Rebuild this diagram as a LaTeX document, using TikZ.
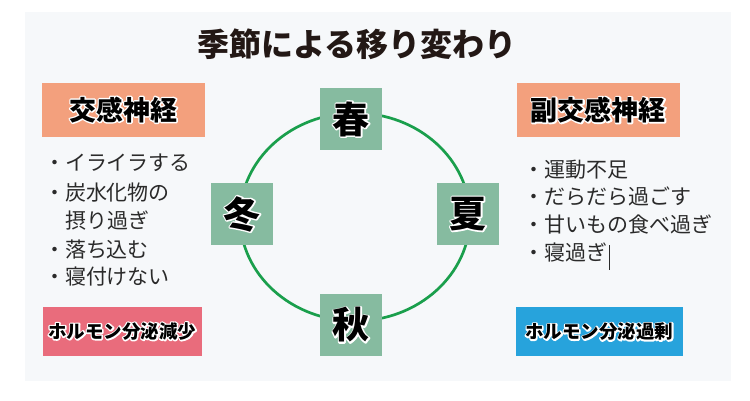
\documentclass[tikz,border=0pt]{standalone}
\usepackage{fontspec}
\setmainfont{Noto Sans CJK JP}
\definecolor{panel}{HTML}{F6F8FA}
\definecolor{salmon}{HTML}{F3A07D}
\definecolor{seasongreen}{HTML}{86BBA0}
\definecolor{ringgreen}{HTML}{1A9F4C}
\definecolor{pinkbox}{HTML}{E96C7C}
\definecolor{bluebox}{HTML}{27A3DC}
\definecolor{inktext}{HTML}{2A2A2A}
\definecolor{titleink}{HTML}{231815}
% text with a white outline: a stroked white copy under the black text
\newcommand{\wout}[1]{\leavevmode\rlap{\special{pdf:literal direct q 1 Tr 1 1 1 RG 2.8 w 1 j 1 J}#1\special{pdf:literal direct Q}}#1}
\begin{document}
\begin{tikzpicture}[x=1pt,y=-1pt,
  every node/.style={inner sep=0pt, outer sep=0pt},
  season/.style={fill=seasongreen, minimum width=62pt, minimum height=62pt,
    font=\bfseries\fontsize{37}{37}\selectfont},
  headbox/.style={fill=salmon, minimum width=163pt, minimum height=54pt,
    font=\bfseries\fontsize{27}{27}\selectfont},
  hormone/.style={minimum height=49pt, font=\bfseries\fontsize{18.5}{18.5}\selectfont},
  item/.style={anchor=west, font=\fontsize{21}{21}\selectfont, text=inktext,
    text height=18pt, text depth=3pt},
  ring/.style={draw=ringgreen, line width=2.7pt}
]
\useasboundingbox (0,0) rectangle (750,400);
\fill[white] (0,0) rectangle (750,400);
\fill[panel] (25,12) rectangle (731,381);

\node[font=\bfseries\fontsize{32}{32}\selectfont, text=titleink] (title) at (357,44) {季節による移り変わり};

% cycle
\draw[ring] (355,217) ellipse [x radius=115, y radius=104];

\node[season] (spring) at (351,119) {\wout{春}};
\node[season] (summer) at (468,214) {\wout{夏}};
\node[season] (autumn) at (351,325) {\wout{秋}};
\node[season] (winter) at (242,214) {\wout{冬}};

% headers
\node[headbox] (symp) at (123.3,109.7) {\wout{交感神経}};
\node[headbox] (para) at (598.3,110) {\wout{副交感神経}};

% left list
\node[item] (l1) at (44,163) {・イライラする};
\node[item] (l2) at (44,192.5) {・炭水化物の};
\node[item] (l3) at (65,220.5) {摂り過ぎ};
\node[item] (l4) at (44,249.5) {・落ち込む};
\node[item] (l5) at (44,277) {・寝付けない};

% right list
\node[item] (r1) at (523,169.5) {・運動不足};
\node[item] (r2) at (523,197) {・だらだら過ごす};
\node[item] (r3) at (523,225) {・甘いもの食べ過ぎ};
\node[item] (r4) at (523,253) {・寝過ぎ};
\coordinate (cur1) at (609.5,245);
\coordinate (cur2) at (609.5,270);
\draw[inktext, line width=0.8pt] (cur1) -- (cur2);

% hormone boxes
\node[hormone, fill=pinkbox, minimum width=159pt] (hlow) at (122.2,331.4) {\wout{ホルモン分泌減少}};
\node[hormone, fill=bluebox, minimum width=167pt] (hhigh) at (599.3,331.8) {\wout{ホルモン分泌過剰}};
\end{tikzpicture}
\end{document}
